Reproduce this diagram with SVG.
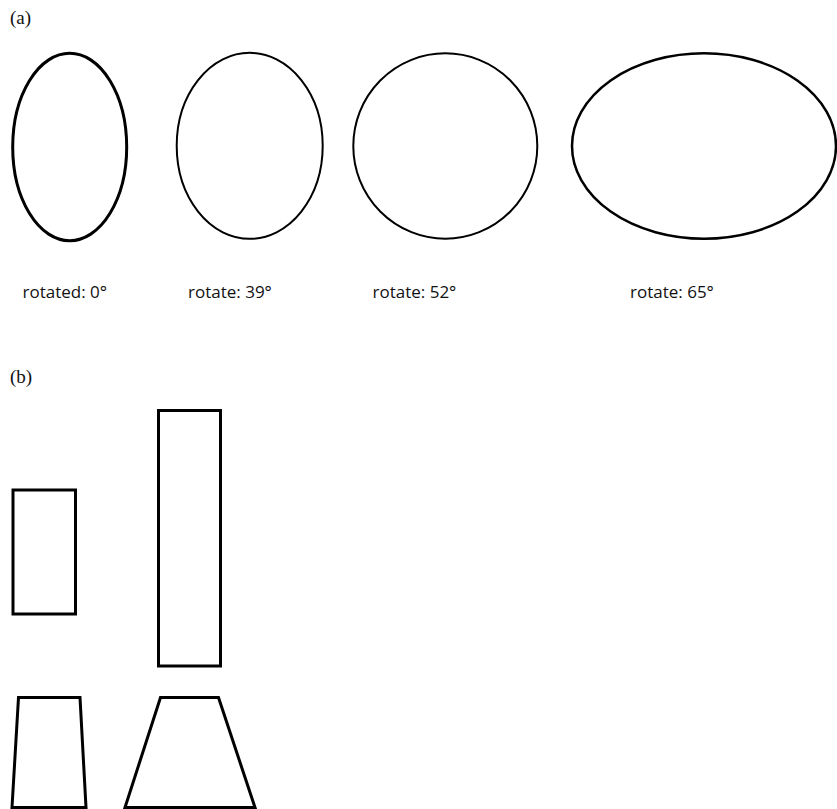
<svg xmlns="http://www.w3.org/2000/svg" width="837" height="809" viewBox="0 0 837 809">
<style>
.shape{fill:none;stroke:#000;stroke-linejoin:miter}
.lbl{font-family:"Open Sans","Liberation Sans",sans-serif;font-size:17px;fill:#111}
.panel{font-family:"Liberation Serif",serif;font-size:19px;fill:#111}
</style>
<rect width="837" height="809" fill="#fff"/>
<text class="panel" x="10" y="24">(a)</text>
<g id="ellipse0"><ellipse class="shape" cx="69.7" cy="147" rx="57" ry="93.7" stroke-width="3"/><text class="lbl" x="22.5" y="297.5">rotated: 0°</text></g>
<g id="ellipse39"><ellipse class="shape" cx="249.7" cy="145.8" rx="73" ry="93" stroke-width="2"/><text class="lbl" x="188" y="297.5">rotate: 39°</text></g>
<g id="ellipse52"><ellipse class="shape" cx="445.3" cy="146" rx="92" ry="92.7" stroke-width="2"/><text class="lbl" x="372.5" y="297.5">rotate: 52°</text></g>
<g id="ellipse65"><ellipse class="shape" cx="704" cy="146" rx="132" ry="92.7" stroke-width="2.5"/><text class="lbl" x="630" y="297.5">rotate: 65°</text></g>
<text class="panel" x="10" y="383">(b)</text>
<g id="rect-small"><rect class="shape" x="13" y="490" width="62.5" height="124" stroke-width="3"/></g>
<g id="rect-tall"><rect class="shape" x="158.5" y="410.5" width="62" height="255.5" stroke-width="3"/></g>
<g id="trap-narrow"><polygon class="shape" points="18.5,697.5 80,697.5 86,807.5 12,807.5" stroke-width="3"/></g>
<g id="trap-wide"><polygon class="shape" points="160.5,697.5 218.5,697.5 255,807.5 125,807.5" stroke-width="3"/></g>
<g id="connectors"/>
</svg>
